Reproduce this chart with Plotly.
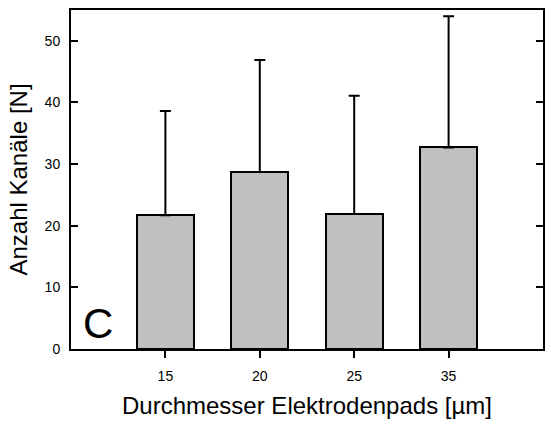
import plotly.graph_objects as go

categories = ["15", "20", "25", "35"]
positions = [1, 2, 3, 4]
means = [21.7, 28.7, 21.9, 32.7]
upper = [38.6, 46.9, 41.1, 54.0]
err_plus = [u - m for u, m in zip(upper, means)]
err_minus = [0, 0, 0, 0]

fig = go.Figure()
fig.add_trace(go.Bar(
    x=positions, y=means, width=0.6,
    marker=dict(color="#c0c0c0", line=dict(color="black", width=2)),
    error_y=dict(type="data", symmetric=False, array=err_plus, arrayminus=err_minus,
                 color="black", thickness=2, width=5.5),
    showlegend=False,
))

fig.add_annotation(x=0.022, y=0.0, xref="paper", yref="paper", text="C",
                   showarrow=False, xanchor="left", yanchor="bottom",
                   font=dict(size=42, color="black", family="Liberation Sans"))

fig.update_layout(
    width=551, height=425,
    margin=dict(l=71, r=6, t=10, b=76),
    paper_bgcolor="white", plot_bgcolor="white",
    font=dict(family="Liberation Sans", color="black", size=14),
    bargap=0,
)
fig.update_xaxes(
    range=[0, 5], tickvals=positions, ticktext=categories,
    showline=True, linecolor="black", linewidth=2, mirror=True,
    ticks="outside", ticklen=7, tickwidth=2, tickcolor="black",
    showgrid=False, zeroline=False,
    ticklabelstandoff=6,
    title=dict(text="Durchmesser Elektrodenpads [µm]", font=dict(size=24), standoff=14),
    tickfont=dict(size=14),
)
fig.update_yaxes(
    range=[0, 55], tickvals=[0, 10, 20, 30, 40, 50],
    showline=True, linecolor="black", linewidth=2, mirror="ticks",
    ticks="inside", ticklen=7, tickwidth=2, tickcolor="black",
    showgrid=False, zeroline=False,
    ticklabelstandoff=6,
    title=dict(text="Anzahl Kanäle [N]", font=dict(size=24), standoff=10),
    tickfont=dict(size=14),
)

fig.write_html("out.html")
